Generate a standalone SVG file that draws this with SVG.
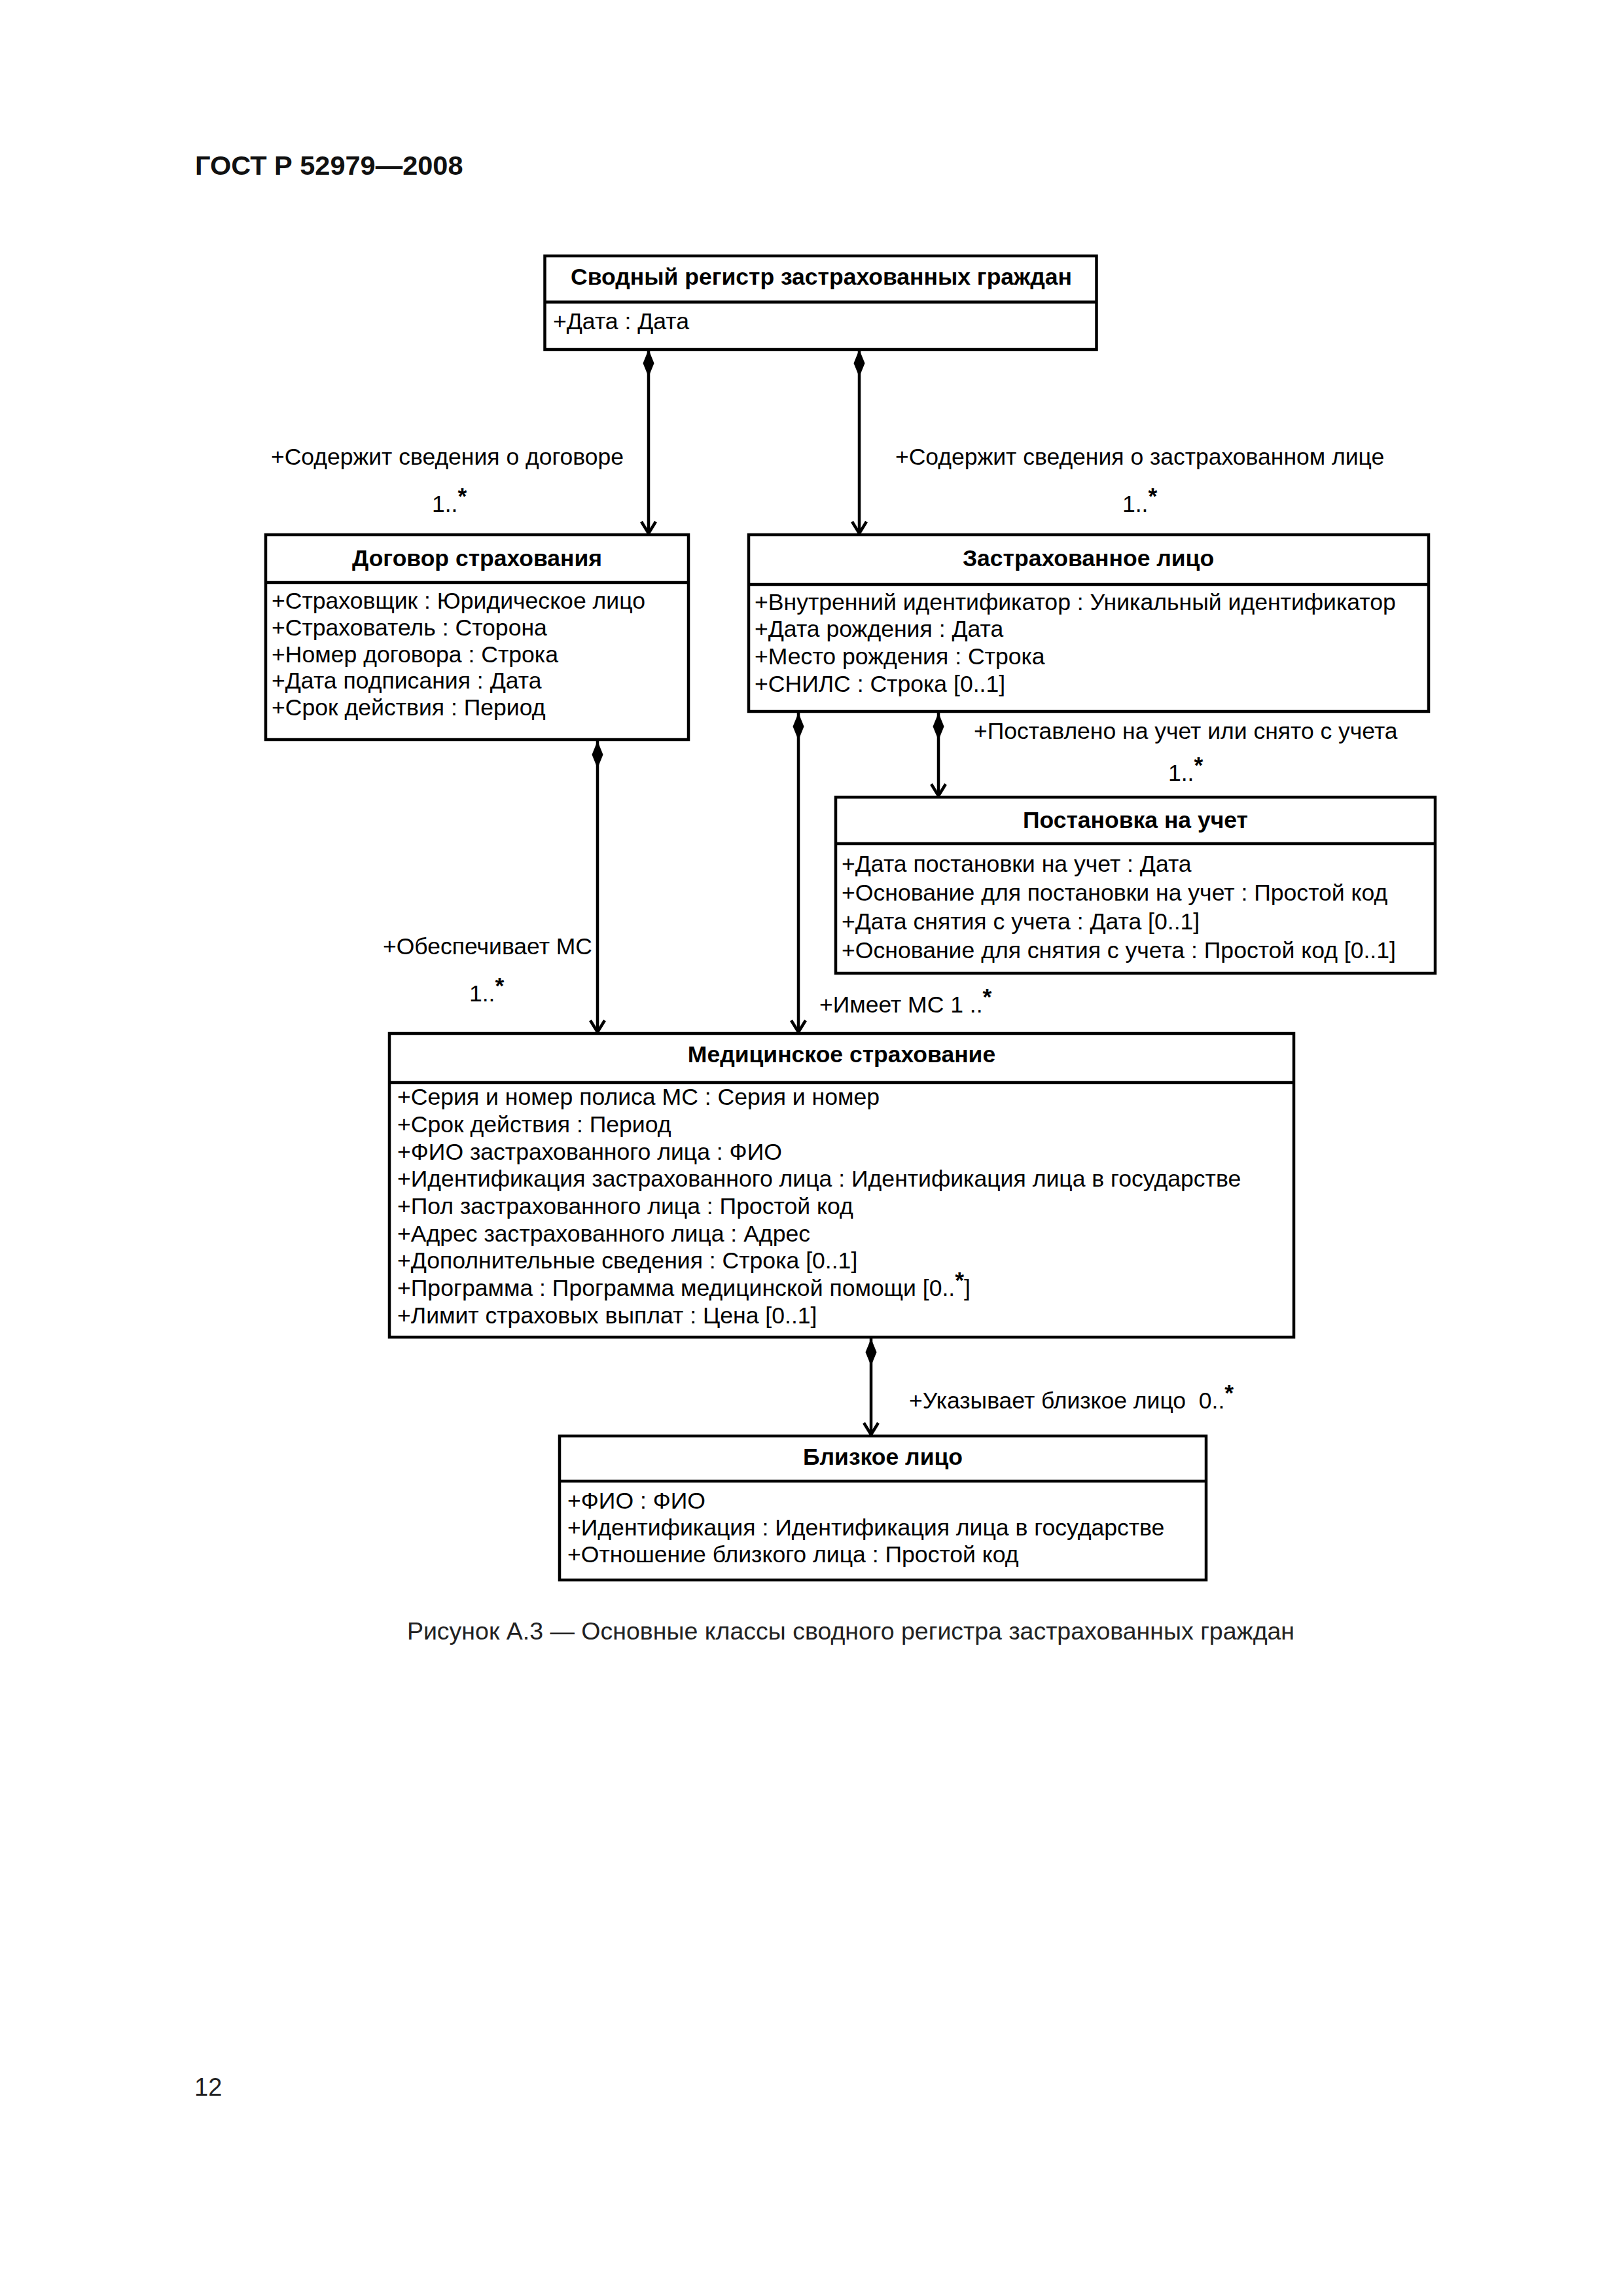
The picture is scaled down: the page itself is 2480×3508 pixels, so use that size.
<svg xmlns="http://www.w3.org/2000/svg" width="2480" height="3508" viewBox="0 0 2480 3508">
<style>
text{font-family:"Liberation Sans",Arial,sans-serif;fill:#000}
.hd{font-size:41.5px;font-weight:bold;fill:#111}
.ti{font-size:35.5px;font-weight:bold;text-anchor:middle}
.at{font-size:35.6px}
.lb{font-size:35.5px}
.st{font-weight:bold}
.cap{font-size:37.5px;fill:#222}
.pg{font-size:38px;fill:#222}
.box{fill:#fff;stroke:#000;stroke-width:4.5}
.sep{stroke:#000;stroke-width:4.5}
.con{stroke:#000;stroke-width:4.5;fill:none;marker-start:url(#dia);marker-end:url(#arr)}
</style>
<defs>
<marker id="dia" markerUnits="userSpaceOnUse" viewBox="-1 -10 45 20" refX="0" refY="0" markerWidth="45" markerHeight="20" orient="auto">
<path d="M0,0 L21,-8.5 L42,0 L21,8.5 Z" fill="#000"/>
</marker>
<marker id="arr" markerUnits="userSpaceOnUse" viewBox="-22 -15 26 30" refX="0" refY="0" markerWidth="26" markerHeight="30" orient="auto">
<path d="M-18,-11 L0,0 L-18,11" fill="none" stroke="#000" stroke-width="4.5"/>
</marker>
</defs>
<rect width="2480" height="3508" fill="#fff"/>
<text class="hd" x="298" y="267">ГОСТ Р 52979—2008</text>

<g id="connectors">
<path class="con" d="M991,534 L991,815"/>
<path class="con" d="M1313,534 L1313,815"/>
<path class="con" d="M913,1132 L913,1577"/>
<path class="con" d="M1220,1089 L1220,1577"/>
<path class="con" d="M1434,1089 L1434,1216"/>
<path class="con" d="M1331,2045 L1331,2192"/>
<text class="lb" x="414" y="710">+Содержит сведения о договоре</text>
<text class="lb" x="660" y="782">1..<tspan class="st" dy="-12">*</tspan></text>
<text class="lb" x="1368" y="710">+Содержит сведения о застрахованном лице</text>
<text class="lb" x="1715" y="782">1..<tspan class="st" dy="-12">*</tspan></text>
<text class="lb" x="1488" y="1129">+Поставлено на учет или снято с учета</text>
<text class="lb" x="1785" y="1193">1..<tspan class="st" dy="-12">*</tspan></text>
<text class="lb" x="585" y="1458">+Обеспечивает МС</text>
<text class="lb" x="717" y="1530">1..<tspan class="st" dy="-12">*</tspan></text>
<text class="lb" x="1252" y="1547">+Имеет МС 1 ..<tspan class="st" dy="-12">*</tspan></text>
<text class="lb" x="1389" y="2152" xml:space="preserve">+Указывает близкое лицо  0..<tspan class="st" dy="-12">*</tspan></text>
</g>

<g id="registry">
<rect class="box" x="832.5" y="391" width="843" height="143"/>
<line class="sep" x1="832.5" y1="461.5" x2="1675.5" y2="461.5"/>
<text class="ti" x="1255" y="435">Сводный регистр застрахованных граждан</text>
<text class="at" x="845" y="503">+Дата : Дата</text>
</g>

<g id="contract">
<rect class="box" x="406" y="817" width="646" height="313"/>
<line class="sep" x1="406" y1="890" x2="1052" y2="890"/>
<text class="ti" x="729" y="865">Договор страхования</text>
<text class="at" x="415" y="930">+Страховщик : Юридическое лицо</text>
<text class="at" x="415" y="971">+Страхователь : Сторона</text>
<text class="at" x="415" y="1012">+Номер договора : Строка</text>
<text class="at" x="415" y="1052">+Дата подписания : Дата</text>
<text class="at" x="415" y="1093">+Срок действия : Период</text>
</g>

<g id="insured">
<rect class="box" x="1144" y="817" width="1039" height="270"/>
<line class="sep" x1="1144" y1="893" x2="2183" y2="893"/>
<text class="ti" x="1663" y="865">Застрахованное лицо</text>
<text class="at" x="1153" y="932">+Внутренний идентификатор : Уникальный идентификатор</text>
<text class="at" x="1153" y="973">+Дата рождения : Дата</text>
<text class="at" x="1153" y="1015">+Место рождения : Строка</text>
<text class="at" x="1153" y="1057">+СНИЛС : Строка [0..1]</text>
</g>

<g id="registration">
<rect class="box" x="1277" y="1218" width="916" height="269"/>
<line class="sep" x1="1277" y1="1289" x2="2193" y2="1289"/>
<text class="ti" x="1735" y="1265">Постановка на учет</text>
<text class="at" x="1286" y="1332">+Дата постановки на учет : Дата</text>
<text class="at" x="1286" y="1376">+Основание для постановки на учет : Простой код</text>
<text class="at" x="1286" y="1420">+Дата снятия с учета : Дата [0..1]</text>
<text class="at" x="1286" y="1464">+Основание для снятия с учета : Простой код [0..1]</text>
</g>

<g id="medical">
<rect class="box" x="595" y="1579" width="1382" height="464"/>
<line class="sep" x1="595" y1="1654" x2="1977" y2="1654"/>
<text class="ti" x="1286" y="1623">Медицинское страхование</text>
<text class="at" x="607" y="1688">+Серия и номер полиса МС : Серия и номер</text>
<text class="at" x="607" y="1730">+Срок действия : Период</text>
<text class="at" x="607" y="1772">+ФИО застрахованного лица : ФИО</text>
<text class="at" x="607" y="1813">+Идентификация застрахованного лица : Идентификация лица в государстве</text>
<text class="at" x="607" y="1855">+Пол застрахованного лица : Простой код</text>
<text class="at" x="607" y="1897">+Адрес застрахованного лица : Адрес</text>
<text class="at" x="607" y="1938">+Дополнительные сведения : Строка [0..1]</text>
<text class="at" x="607" y="1980">+Программа : Программа медицинской помощи [0..<tspan class="st" dy="-12">*</tspan><tspan dy="12">]</tspan></text>
<text class="at" x="607" y="2022">+Лимит страховых выплат : Цена [0..1]</text>
</g>

<g id="relative">
<rect class="box" x="855" y="2194" width="988" height="220"/>
<line class="sep" x1="855" y1="2263" x2="1843" y2="2263"/>
<text class="ti" x="1349" y="2238">Близкое лицо</text>
<text class="at" x="867" y="2305">+ФИО : ФИО</text>
<text class="at" x="867" y="2346">+Идентификация : Идентификация лица в государстве</text>
<text class="at" x="867" y="2387">+Отношение близкого лица : Простой код</text>
</g>

<text class="cap" x="1300" y="2505" text-anchor="middle">Рисунок А.3 — Основные классы сводного регистра застрахованных граждан</text>
<text class="pg" x="297" y="3202">12</text>
</svg>
